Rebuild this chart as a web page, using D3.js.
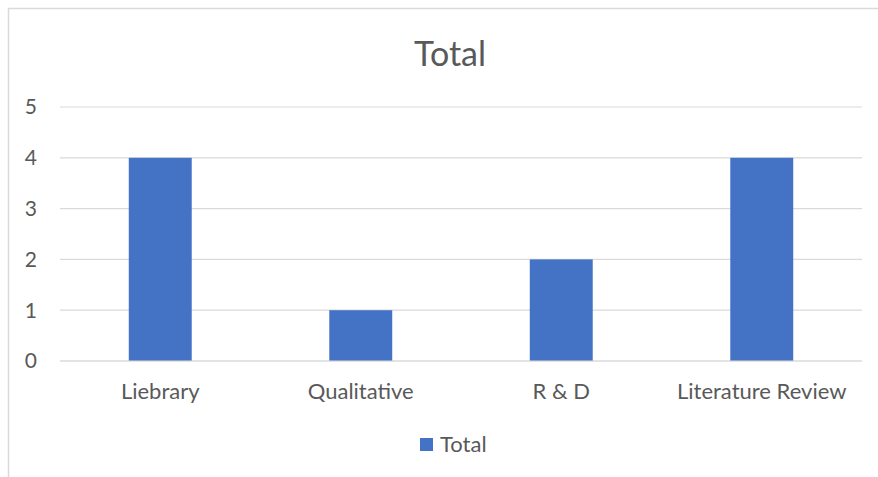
<!DOCTYPE html>
<html><head><meta charset="utf-8">
<script src="https://cdn.jsdelivr.net/npm/d3@7"></script>
<style>html,body{margin:0;padding:0;background:#fff;}</style>
</head><body>
<script>
const categories = ["Liebrary", "Qualitative", "R & D", "Literature Review"];
const values = [4, 1, 2, 4];
const yTicks = [0, 1, 2, 3, 4, 5];
const seriesName = "Total";
const chartTitle = "Total";

const W = 878, H = 477;
const font = "Lato, 'Open Sans', sans-serif";
const textColor = "#595959";
const barColor = "#4472C4";

const svg = d3.select("body").append("svg").attr("width", W).attr("height", H);
svg.append("rect").attr("x", 8.5).attr("y", 8.5).attr("width", W + 10).attr("height", H + 10)
  .attr("fill", "#fff").attr("stroke", "#d9d9d9").attr("stroke-width", 1.5);

const plot = {left: 60, right: 862, top: 107, bottom: 361};
const x = d3.scaleBand().domain(categories).range([plot.left, plot.right]).padding(0);
const y = d3.scaleLinear().domain([0, 5]).range([plot.bottom, plot.top]);

// gridlines
svg.append("g").selectAll("line").data(yTicks).join("line")
  .attr("x1", plot.left).attr("x2", plot.right)
  .attr("y1", d => y(d)).attr("y2", d => y(d))
  .attr("stroke", "#d9d9d9").attr("stroke-width", 1.2);

// y labels
svg.append("g").selectAll("text").data(yTicks).join("text")
  .attr("x", 37).attr("y", d => y(d)).attr("dy", "0.35em")
  .attr("text-anchor", "end").attr("fill", textColor)
  .style("font-family", font).style("font-size", "21px").text(d => d);

// bars
const barW = x.bandwidth() * 0.314;
svg.append("g").selectAll("rect").data(values).join("rect")
  .attr("x", (d, i) => x(categories[i]) + x.bandwidth() / 2 - barW / 2)
  .attr("width", barW)
  .attr("y", d => y(d)).attr("height", d => y(0) - y(d))
  .attr("fill", barColor);

// axis baseline
svg.append("line").attr("x1", plot.left).attr("x2", plot.right)
  .attr("y1", y(0)).attr("y2", y(0)).attr("stroke", "#d9d9d9").attr("stroke-width", 1.2);

// category labels
svg.append("g").selectAll("text").data(categories).join("text")
  .attr("x", d => x(d) + x.bandwidth() / 2).attr("y", 399)
  .attr("text-anchor", "middle").attr("fill", textColor)
  .style("font-family", font).style("font-size", "22px").text(d => d);

// title
svg.append("text").attr("x", 450).attr("y", 66).attr("text-anchor", "middle")
  .attr("fill", textColor).style("font-family", font).style("font-size", "34px").text(chartTitle);

// legend
svg.append("rect").attr("x", 420).attr("y", 438).attr("width", 13).attr("height", 13).attr("fill", barColor);
svg.append("text").attr("x", 440).attr("y", 452).attr("fill", textColor)
  .style("font-family", font).style("font-size", "22px").text(seriesName);
</script>
</body></html>
